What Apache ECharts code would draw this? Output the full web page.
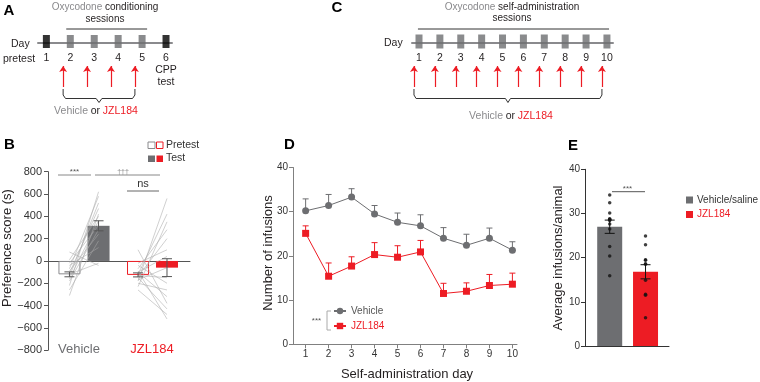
<!DOCTYPE html>
<html><head><meta charset="utf-8">
<script src="https://cdn.jsdelivr.net/npm/echarts@6/dist/echarts.min.js"></script>
<style>html,body{margin:0;padding:0;background:#fff}#c{width:760px;height:382px}</style>
</head><body><div id="c"></div>
<script>
// ---------------- DATA ----------------
// Panel A schedule (CPP)
const daysA = [1, 2, 3, 4, 5, 6];
const conditioningDaysA = [2, 3, 4, 5];
const testDaysA = [1, 6];
const treatmentDaysA = [2, 3, 4, 5];
// Panel C schedule (self-administration)
const daysC = [1, 2, 3, 4, 5, 6, 7, 8, 9, 10];
const sessionDaysC = [1, 2, 3, 4, 5, 6, 7, 8, 9, 10];
const treatmentDaysC = [1, 2, 3, 4, 5, 6, 7, 8, 9, 10];
// Panel B preference scores (s)
const bGroups = ['Vehicle', 'JZL184'];
const bPhases = ['Pretest', 'Test'];
const bVehicleMean = [-120, 315];
const bVehicleSem = [22, 45];
const bJZLMean = [-125, -60];
const bJZLSem = [18, 80];
const bVehiclePre  = [-310, -260, -220, -180, -160, -140, -120, -110, -90, -70, -40, -20, 10, 80];
const bVehicleTest = [420, 180, 620, 280, 360, 520, -20, 470, 240, 580, 120, 320, 400, -40];
const bJZLPre  = [-260, -230, -200, -180, -170, -150, -140, -130, -120, -100, -100, -90, -70, -40, -20, 100];
const bJZLTest = [-480, 350, -260, 560, -60, -430, 200, -150, 420, -320, 40, -520, 280, -200, 100, -380];
// Panel D infusions per day
const dDays = [1, 2, 3, 4, 5, 6, 7, 8, 9, 10];
const dVehicleMean = [30.2, 31.4, 33.3, 29.5, 27.6, 26.8, 24.0, 22.4, 24.0, 21.3];
const dVehicleSem  = [2.7, 2.5, 1.9, 1.9, 2.1, 2.5, 2.4, 2.5, 2.3, 1.9];
const dJZLMean = [25.1, 15.4, 17.7, 20.3, 19.7, 20.9, 11.5, 12.0, 13.3, 13.6];
const dJZLSem  = [1.7, 3.0, 2.1, 2.7, 2.6, 2.6, 2.3, 1.9, 2.5, 2.5];
// Panel E average infusions/animal
const eGroups = ['Vehicle/saline', 'JZL184'];
const eMean = [27.0, 16.8];
const eSem = [1.5, 1.6];
const eVehicleAnimals = [34.2, 32.4, 30.1, 28.7, 28.6, 28.8, 28.4, 27.6, 26.5, 22.5, 20.4, 15.9];
const eJZLAnimals = [24.9, 22.9, 19.5, 19.4, 18.6, 18.5, 14.9, 11.7, 11.5, 6.4];

// ---------------- STYLE / LAYOUT ----------------
const RED = '#ed1c24', GRAY = '#6d6e71', DARK = '#231f20', LGRAY = '#8a8a8d';
const FONT = '"Liberation Sans", Arial, Helvetica, sans-serif';
const bPos = { vehPre: 1.51, vehTest: 3.56, jzlPre: 6.34, jzlTest: 8.38 };
const ePos = [1, 2.45];

const chart = echarts.init(document.getElementById('c'));

function errItem(color, capHalf, both) {
  return function (params, api) {
    const x = api.value(0), lo = api.value(1), hi = api.value(2);
    const a = api.coord([x, lo]), b = api.coord([x, hi]);
    const st = { stroke: color, lineWidth: 1 };
    const ch = [
      { type: 'line', shape: { x1: a[0], y1: a[1], x2: b[0], y2: b[1] }, style: st },
      { type: 'line', shape: { x1: b[0] - capHalf, y1: b[1], x2: b[0] + capHalf, y2: b[1] }, style: st }
    ];
    if (both) ch.push({ type: 'line', shape: { x1: a[0] - capHalf, y1: a[1], x2: a[0] + capHalf, y2: a[1] }, style: st });
    return { type: 'group', children: ch };
  };
}

function T(x, y, text, o) {
  const el = { type: 'text', x: x, y: y, silent: true,
    style: Object.assign({ text: text, fill: DARK, fontSize: 10, fontFamily: FONT, align: 'center', verticalAlign: 'middle' }, o || {}) };
  if (o && o.rotation) { el.rotation = o.rotation; delete el.style.rotation; }
  return el;
}
function L(x1, y1, x2, y2, c, w) {
  return { type: 'line', silent: true, shape: { x1, y1, x2, y2 }, style: { stroke: c || '#777', lineWidth: w || 1 } };
}
function R(x, y, w, h, fill, stroke) {
  return { type: 'rect', silent: true, shape: { x, y, width: w, height: h }, style: { fill: fill, stroke: stroke || null, lineWidth: 1 } };
}
function rich(size) {
  return {
    g: { fill: LGRAY, fontSize: size, fontFamily: FONT },
    d: { fill: DARK, fontSize: size, fontFamily: FONT },
    r: { fill: RED, fontSize: size, fontFamily: FONT }
  };
}

const noGrid = { outerBoundsMode: 'none', containLabel: false };
const grids = [
  Object.assign({ left: 38, top: 0, width: 134, height: 43 }, noGrid),       // A
  Object.assign({ left: 412, top: 0, width: 201, height: 43 }, noGrid),      // C
  Object.assign({ left: 48, top: 171.7, width: 142, height: 178.5 }, noGrid),// B
  Object.assign({ left: 293, top: 167.5, width: 224, height: 176.8 }, noGrid),// D
  Object.assign({ left: 585, top: 169.3, width: 84, height: 176.7 }, noGrid) // E
];

const schemX = (gi, min, max, days) => ({
  gridIndex: gi, type: 'value', min: min, max: max,
  axisLine: { show: true, onZero: false, lineStyle: { color: LGRAY, width: 2 } },
  axisTick: { show: false }, splitLine: { show: false },
  axisLabel: { customValues: days, fontSize: 10.5, color: DARK, fontFamily: FONT, margin: 10, formatter: v => String(v) }
});
const schemY = gi => ({ gridIndex: gi, type: 'value', min: 0, max: 43, inverse: true, show: false });

const xAxes = [
  schemX(0, 0.65, 6.25, daysA),
  schemX(1, 0.665, 10.29, daysC),
  { gridIndex: 2, type: 'value', min: 0, max: 10, axisLine: { onZero: true, lineStyle: { color: '#555', width: 1 } },
    axisTick: { show: false }, axisLabel: { show: false }, splitLine: { show: false } },
  { gridIndex: 3, type: 'value', min: 0.45, max: 10.2,
    axisLine: { onZero: false, lineStyle: { color: '#808080' } },
    axisTick: { show: true, customValues: dDays, length: 4, lineStyle: { color: '#808080' } },
    axisLabel: { customValues: dDays, fontSize: 10, color: '#333', fontFamily: FONT, margin: 5, formatter: v => String(v) },
    splitLine: { show: false } },
  { gridIndex: 4, type: 'value', min: 0, max: 3.4, axisLine: { onZero: false, lineStyle: { color: '#333' } },
    axisTick: { show: false }, axisLabel: { show: false }, splitLine: { show: false } }
];
const yAxes = [
  schemY(0), schemY(1),
  { gridIndex: 2, type: 'value', min: -800, max: 800, interval: 200,
    axisLine: { show: true, onZero: false, lineStyle: { color: '#555' } },
    axisTick: { show: true, length: 4, lineStyle: { color: '#555' } },
    axisLabel: { fontSize: 11, color: '#333', fontFamily: FONT, margin: 6, formatter: v => v < 0 ? '\u2212' + (-v) : String(v) },
    splitLine: { show: false } },
  { gridIndex: 3, type: 'value', min: 0, max: 40, interval: 10,
    axisLine: { show: true, onZero: false, lineStyle: { color: '#808080' } },
    axisTick: { show: true, length: 4, lineStyle: { color: '#808080' } },
    axisLabel: { fontSize: 10, color: '#333', fontFamily: FONT, margin: 5 }, splitLine: { show: false } },
  { gridIndex: 4, type: 'value', min: 0, max: 40, interval: 10,
    axisLine: { show: true, onZero: false, lineStyle: { color: '#333' } },
    axisTick: { show: true, length: 4, lineStyle: { color: '#333' } },
    axisLabel: { fontSize: 10, color: '#333', fontFamily: FONT, margin: 5 }, splitLine: { show: false } }
];

// schematic helpers
function schemSeries(ax, sessionDays, blackDays, treatDays, arrowOff, lineFrom, lineTo, boxH, boxY) {
  const s = [];
  s.push({ type: 'scatter', xAxisIndex: ax, yAxisIndex: ax, silent: true, clip: false, z: 5,
    symbol: 'rect', symbolSize: [7, boxH], itemStyle: { color: GRAY },
    data: sessionDays.map(d => [d, boxY]) });
  if (blackDays.length) s.push({ type: 'scatter', xAxisIndex: ax, yAxisIndex: ax, silent: true, clip: false, z: 5,
    symbol: 'rect', symbolSize: [7, boxH], itemStyle: { color: '#000' },
    data: blackDays.map(d => [d, boxY]) });
  s.push({ type: 'lines', coordinateSystem: 'cartesian2d', xAxisIndex: ax, yAxisIndex: ax, silent: true, clip: false,
    symbol: ['none', 'arrow'], symbolSize: 6, lineStyle: { color: RED, width: 1.2, opacity: 1, curveness: 0 },
    data: treatDays.map(d => ({ coords: [[d + arrowOff, 87], [d + arrowOff, 66]] })) });
  const Lx = treatDays[0] + arrowOff, Rx = treatDays[treatDays.length - 1] + arrowOff, M = (Lx + Rx) / 2;
  s.push({ type: 'lines', coordinateSystem: 'cartesian2d', xAxisIndex: ax, yAxisIndex: ax, silent: true, clip: false,
    polyline: true, symbol: 'none', lineStyle: { color: '#333', width: 1, opacity: 1 },
    data: [
      { coords: [[lineFrom, 29], [lineTo, 29]] },
      { coords: [[Lx, 89], [Lx, 95], [Lx + 0.1, 98.5], [M - 0.12, 98.5], [M, 102.5], [M + 0.12, 98.5], [Rx - 0.1, 98.5], [Rx, 95], [Rx, 89]] }
    ] });
  return s;
}

const series = [].concat(
  schemSeries(0, conditioningDaysA, testDaysA, treatmentDaysA, -0.3,
    conditioningDaysA[0] - 0.17, conditioningDaysA[conditioningDaysA.length - 1] + 0.21, 13, 41.5),
  schemSeries(1, sessionDaysC, [], treatmentDaysC, -0.24,
    sessionDaysC[0] - 0.05, sessionDaysC[sessionDaysC.length - 1] + 0.1, 14, 41.5),
  [
    // Panel B bars
    { type: 'bar', xAxisIndex: 2, yAxisIndex: 2, barWidth: 22, silent: true, z: 2,
      data: [
        { value: [bPos.vehPre, bVehicleMean[0]], itemStyle: { color: '#fff', borderColor: '#8a8a8d', borderWidth: 1 } },
        { value: [bPos.vehTest, bVehicleMean[1]], itemStyle: { color: GRAY } },
        { value: [bPos.jzlPre, bJZLMean[0]], itemStyle: { color: '#fff', borderColor: RED, borderWidth: 1 } },
        { value: [bPos.jzlTest, bJZLMean[1]], itemStyle: { color: RED } }
      ] },
    // individual animals
    { type: 'lines', coordinateSystem: 'cartesian2d', xAxisIndex: 2, yAxisIndex: 2, silent: true, z: 3,
      lineStyle: { color: '#a8a8a8', width: 0.6, opacity: 0.9 },
      data: bVehiclePre.map((p, i) => ({ coords: [[bPos.vehPre, p], [bPos.vehTest, bVehicleTest[i]]] }))
        .concat(bJZLPre.map((p, i) => ({ coords: [[bPos.jzlPre, p], [bPos.jzlTest, bJZLTest[i]]] }))) },
    // B error bars
    { type: 'custom', xAxisIndex: 2, yAxisIndex: 2, silent: true, z: 4, renderItem: errItem('#555', 5, true),
      encode: { x: 0, y: [1, 2] },
      data: [
        [bPos.vehPre, bVehicleMean[0] - bVehicleSem[0], bVehicleMean[0] + bVehicleSem[0]],
        [bPos.vehTest, bVehicleMean[1] - bVehicleSem[1], bVehicleMean[1] + bVehicleSem[1]],
        [bPos.jzlPre, bJZLMean[0] - bJZLSem[0], bJZLMean[0] + bJZLSem[0]],
        [bPos.jzlTest, bJZLMean[1] - bJZLSem[1], bJZLMean[1] + bJZLSem[1]]
      ] },
    // Panel D error bars
    { type: 'custom', xAxisIndex: 3, yAxisIndex: 3, silent: true, z: 3, renderItem: errItem(GRAY, 3, false),
      encode: { x: 0, y: [1, 2] },
      data: dDays.map((d, i) => [d, dVehicleMean[i], dVehicleMean[i] + dVehicleSem[i]]) },
    { type: 'custom', xAxisIndex: 3, yAxisIndex: 3, silent: true, z: 3, renderItem: errItem(RED, 3, false),
      encode: { x: 0, y: [1, 2] },
      data: dDays.map((d, i) => [d, dJZLMean[i], dJZLMean[i] + dJZLSem[i]]) },
    { name: 'Vehicle', type: 'line', xAxisIndex: 3, yAxisIndex: 3, z: 5, silent: true,
      symbol: 'circle', symbolSize: 7, color: GRAY, itemStyle: { color: GRAY },
      lineStyle: { color: GRAY, width: 1 },
      data: dDays.map((d, i) => [d, dVehicleMean[i]]) },
    { name: 'JZL184', type: 'line', xAxisIndex: 3, yAxisIndex: 3, z: 5, silent: true,
      symbol: 'rect', symbolSize: 7, color: RED, itemStyle: { color: RED },
      lineStyle: { color: RED, width: 1 },
      data: dDays.map((d, i) => [d, dJZLMean[i]]) },
    // Panel E
    { name: eGroups[0], type: 'bar', xAxisIndex: 4, yAxisIndex: 4, barWidth: 25, barGap: '-100%', silent: true,
      color: GRAY, itemStyle: { color: GRAY }, data: [[ePos[0], eMean[0]]] },
    { name: eGroups[1] + ' ', type: 'bar', xAxisIndex: 4, yAxisIndex: 4, barWidth: 25, barGap: '-100%', silent: true,
      color: RED, itemStyle: { color: RED }, data: [[ePos[1], eMean[1]]] },
    { type: 'custom', xAxisIndex: 4, yAxisIndex: 4, silent: true, z: 4, renderItem: errItem('#111', 5, true),
      encode: { x: 0, y: [1, 2] },
      data: eMean.map((m, i) => [ePos[i], m - eSem[i], m + eSem[i]]) },
    { type: 'scatter', xAxisIndex: 4, yAxisIndex: 4, silent: true, z: 5, symbolSize: 3.5,
      itemStyle: { color: '#111' },
      data: eVehicleAnimals.map(v => [ePos[0], v]).concat(eJZLAnimals.map(v => [ePos[1], v])) }
  ]
);

const graphic = [
  // panel letters
  T(9, 11, 'A', { fontSize: 15, fontWeight: 'bold', fill: '#000' }),
  T(337, 8, 'C', { fontSize: 15, fontWeight: 'bold', fill: '#000' }),
  T(9.5, 145, 'B', { fontSize: 15, fontWeight: 'bold', fill: '#000' }),
  T(289.5, 145, 'D', { fontSize: 15, fontWeight: 'bold', fill: '#000' }),
  T(573, 145.5, 'E', { fontSize: 15, fontWeight: 'bold', fill: '#000' }),
  // panel A texts
  T(105, 7, '{g|Oxycodone} {d|conditioning}', { rich: rich(10) }),
  T(105, 19, 'sessions'),
  T(11, 44, 'Day', { align: 'left', fontSize: 10.5 }),
  T(19, 59, 'pretest', { fontSize: 10.5 }),
  T(166, 70.5, 'CPP', { fontSize: 10.5 }),
  T(166, 82, 'test', { fontSize: 10.5 }),
  T(96, 111, '{g|Vehicle} {d|or} {r|JZL184}', { rich: rich(10.5) }),
  // panel C texts
  T(512, 7, '{g|Oxycodone} {d|self-administration}', { rich: rich(10) }),
  T(512, 18, 'sessions'),
  T(384, 43.5, 'Day', { align: 'left', fontSize: 10.5 }),
  T(511, 116, '{g|Vehicle} {d|or} {r|JZL184}', { rich: rich(10.5) }),
  // panel B legend
  R(148, 142, 7, 6.5, '#fff', '#8a8a8d'), R(156.5, 142, 6.5, 6.5, '#fff', RED),
  T(166, 145.5, 'Pretest', { align: 'left', fontSize: 10.5, fill: '#333' }),
  R(148, 155.5, 7, 6.5, GRAY), R(156.5, 155.5, 6.5, 6.5, RED),
  T(166, 158.5, 'Test', { align: 'left', fontSize: 10.5, fill: '#333' }),
  // panel B labels and significance
  T(79, 349, 'Vehicle', { fontSize: 13, fill: GRAY }),
  T(152, 349, 'JZL184', { fontSize: 13, fill: RED }),
  T(7, 248, 'Preference score (s)', { fontSize: 13, rotation: Math.PI / 2 }),
  L(58, 175, 91, 175, '#888'), T(74.5, 171.5, '***', { fontSize: 8, fill: '#555' }),
  L(95, 175, 160, 175, '#888'), T(123, 172, '\u2020\u2020\u2020', { fontSize: 7, fill: '#888' }),
  L(127, 191, 159, 191, '#666'), T(143, 184, 'ns', { fontSize: 11, fill: '#333' }),
  // panel D
  T(268, 253, 'Number of infusions', { fontSize: 13, rotation: Math.PI / 2 }),
  T(407, 374, 'Self-administration day', { fontSize: 13 }),
  T(316.5, 321, '***', { fontSize: 8, fill: '#555' }),
  L(327, 311, 327, 330, '#aaa'), L(327, 311, 331, 311, '#aaa'), L(327, 330, 331, 330, '#aaa'),
  // panel E
  T(558, 258, 'Average infusions/animal', { fontSize: 13, rotation: Math.PI / 2 }),
  L(612, 191.7, 645, 191.7, '#555'), T(627.5, 188.5, '***', { fontSize: 8, fill: '#555' })
];

chart.setOption({
  animation: false,
  backgroundColor: '#fff',
  textStyle: { fontFamily: FONT },
  grid: grids,
  xAxis: xAxes,
  yAxis: yAxes,
  legend: [
    { selectedMode: false, orient: 'vertical', left: 333, top: 306, itemWidth: 12, itemHeight: 8, itemGap: 5,
      padding: 0, textStyle: { fontSize: 10, fontFamily: FONT },
      data: [{ name: 'Vehicle', textStyle: { color: '#555' } }, { name: 'JZL184', textStyle: { color: RED } }] },
    { selectedMode: false, orient: 'vertical', left: 686, top: 195, icon: 'rect', itemWidth: 7, itemHeight: 7, itemGap: 4.5,
      padding: 0, textStyle: { fontSize: 10, fontFamily: FONT, padding: [0, 0, 0, -1] },
      formatter: n => n.trim(),
      data: [{ name: eGroups[0], textStyle: { color: '#333' } }, { name: eGroups[1] + ' ', textStyle: { color: RED } }] }
  ],
  series: series,
  graphic: { elements: graphic }
});
</script>
</body></html>
